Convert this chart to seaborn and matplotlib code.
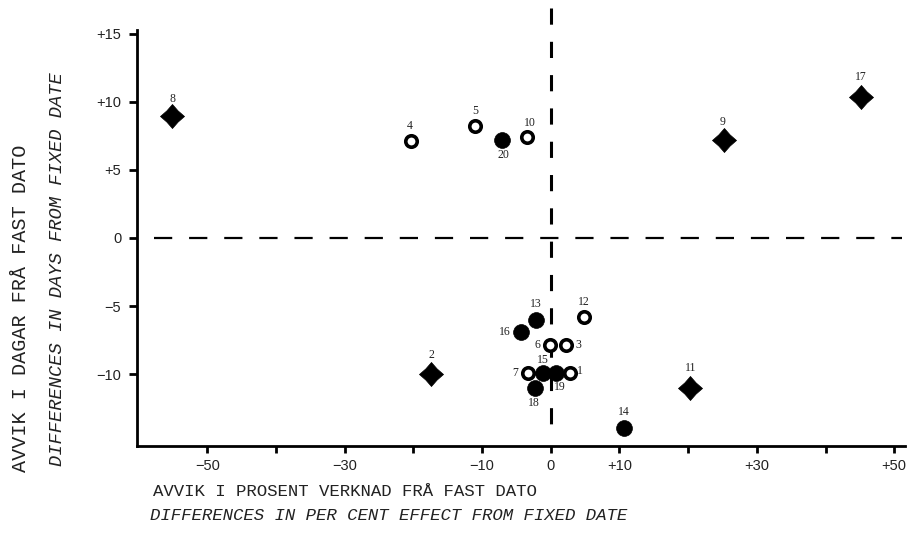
import numpy as np
import pandas as pd
import matplotlib
matplotlib.use("Agg")
import matplotlib.pyplot as plt
from matplotlib.path import Path
import seaborn as sns

# data
labels = ["8", "4", "5", "20", "10", "9", "17", "2", "11", "14",
          "13", "12", "16", "6", "3", "7", "15", "19", "1", "18"]
pct_diff = [-55.1, -20.3, -11.0, -7.1, -3.5, 25.2, 45.1, -17.4, 20.3, 10.6,
            -2.2, 4.8, -4.3, -0.1, 2.2, -3.3, -1.2, 0.7, 2.8, -2.3]
day_diff = [9.0, 7.1, 8.2, 7.2, 7.4, 7.2, 10.4, -10.0, -11.0, -14.0,
            -6.0, -5.8, -6.9, -7.9, -7.9, -9.9, -9.9, -9.9, -9.9, -11.0]
kinds = ["star", "open", "open", "filled", "open", "star", "star", "star", "star", "filled",
         "filled", "open", "filled", "open", "open", "open", "filled", "filled", "open", "filled"]

x_ticks = [-50, -40, -30, -20, -10, 0, 10, 20, 30, 40, 50]
x_ticklabels = ["\u221250", "", "\u221230", "", "\u221210", "0", "+10", "", "+30", "", "+50"]
y_ticks = [-10, -5, 0, 5, 10, 15]
y_ticklabels = ["\u221210", "\u22125", "0", "+5", "+10", "+15"]

# label offsets in points (dx, dy) around each marker
label_offsets = {
    "8": (0, 12), "4": (-1, 11), "5": (0, 11), "20": (1, -11), "10": (2, 10),
    "9": (-1, 13), "17": (0, 14), "2": (0, 14), "11": (0, 14), "14": (0, 12),
    "13": (0, 11), "12": (0, 11), "16": (-12, 0), "6": (-9, 0), "3": (9, 0),
    "7": (-9, 0), "15": (0, 9), "19": (3, -10), "1": (7, 1), "18": (-1, -11),
}

df = pd.DataFrame({"x": pct_diff, "y": day_diff, "kind": kinds, "label": labels})

sns.set_style("white")
fig = plt.figure(figsize=(9.23, 5.33), dpi=100)
ax = fig.add_axes([0.148, 0.163, 0.832, 0.781])

# reference lines through the origin
ax.plot([-57.7, 51.2], [0, 0], color="black", lw=1.6,
        linestyle=(0, (8.2, 7.6)), zorder=1, solid_capstyle="butt")
ax.plot([0, 0], [16.9, -14.8], color="black", lw=2.2,
        linestyle=(0, (5.3, 5.6)), zorder=1, clip_on=False)

star = Path.unit_regular_star(4, 0.66)

sns.scatterplot(data=df[df.kind == "star"], x="x", y="y", marker=star, s=300,
                color="black", edgecolor="black", linewidth=0.5, ax=ax, zorder=3)
sns.scatterplot(data=df[df.kind == "filled"], x="x", y="y", marker="o", s=130,
                color="black", edgecolor="black", linewidth=0.5, ax=ax, zorder=3)
sns.scatterplot(data=df[df.kind == "open"], x="x", y="y", marker="o", s=68,
                facecolor="white", edgecolor="black", linewidth=2.6, ax=ax, zorder=4)

for _, r in df.iterrows():
    dx, dy = label_offsets[r["label"]]
    ax.annotate(r["label"], (r["x"], r["y"]), xytext=(dx, dy), textcoords="offset points",
                ha="center", va="center", fontsize=8.5, family="Liberation Serif",
                color="#222222", zorder=5)

ax.set_xlim(-60.3, 51.5)
ax.set_ylim(-15.3, 15.3)
ax.set_xticks(x_ticks)
ax.set_xticklabels(x_ticklabels, family="Liberation Sans", fontsize=10.5, color="#222222")
ax.set_yticks(y_ticks)
ax.set_yticklabels(y_ticklabels, family="Liberation Sans", fontsize=10.5, color="#222222")
ax.tick_params(axis="x", bottom=True, direction="out", length=5, width=2, pad=4, color="black")
ax.tick_params(axis="y", left=True, direction="out", length=6, width=2, pad=5, color="black")
ax.set_xlabel("")
ax.set_ylabel("")

sns.despine(ax=ax)
for side in ["left", "bottom"]:
    ax.spines[side].set_linewidth(2.0)
    ax.spines[side].set_color("black")

# axis titles, two lines each (Norwegian / English)
fig.text(153 / 923, 1 - 491 / 533, "AVVIK I PROSENT VERKNAD FRÅ FAST DATO",
         family="Liberation Mono", fontsize=12.5, ha="left", va="center", color="#222222")
fig.text(150 / 923, 1 - 516 / 533, "DIFFERENCES IN PER CENT EFFECT FROM FIXED DATE",
         family="Liberation Mono", style="italic", fontsize=12.5, ha="left", va="center",
         color="#222222")
fig.text(21 / 923, 1 - 472 / 533, "AVVIK I DAGAR FRÅ FAST DATO",
         family="Liberation Mono", fontsize=14.5, rotation=90, rotation_mode="anchor",
         ha="left", va="center", color="#222222")
fig.text(57 / 923, 1 - 466 / 533, "DIFFERENCES IN DAYS FROM FIXED DATE",
         family="Liberation Mono", style="italic", fontsize=13.5, rotation=90,
         rotation_mode="anchor", ha="left", va="center", color="#222222")

fig.savefig("out.png", dpi=100)
